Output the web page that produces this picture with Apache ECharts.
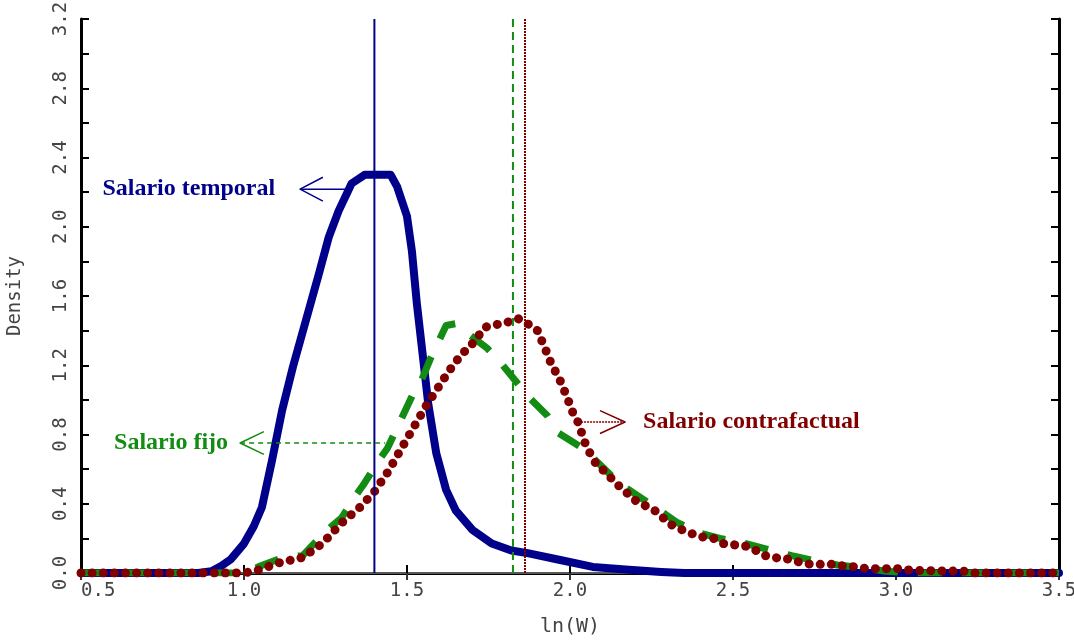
<!DOCTYPE html>
<html><head><meta charset="utf-8">
<script src="https://cdn.jsdelivr.net/npm/echarts@6/dist/echarts.min.js"></script>
<style>html,body{margin:0;padding:0;background:#fff}#c{width:1074px;height:641px}</style>
</head><body><div id="c"></div>
<script>
// ---- data ----
const xTicks = [0.5, 1.0, 1.5, 2.0, 2.5, 3.0, 3.5];
const yTicks = [0.0, 0.4, 0.8, 1.2, 1.6, 2.0, 2.4, 2.8, 3.2];
const temporal = [[0.5,0],[0.7,0],[0.86,0],[0.9,0.01],[0.93,0.04],[0.96,0.08],[1.0,0.17],[1.03,0.27],[1.055,0.38],[1.086,0.65],[1.117,0.94],[1.15,1.19],[1.19,1.46],[1.23,1.73],[1.26,1.94],[1.29,2.09],[1.33,2.25],[1.37,2.30],[1.45,2.30],[1.47,2.23],[1.5,2.06],[1.515,1.86],[1.53,1.56],[1.55,1.23],[1.565,0.98],[1.59,0.69],[1.62,0.48],[1.65,0.36],[1.7,0.25],[1.76,0.17],[1.82,0.13],[1.87,0.115],[1.97,0.075],[2.07,0.035],[2.17,0.02],[2.28,0.006],[2.35,0],[3.5,0]];
const fijo = [[0.5,0],[1.0,0.0],[1.05,0.04],[1.12,0.09],[1.18,0.1],[1.25,0.24],[1.3,0.32],[1.34,0.44],[1.37,0.52],[1.41,0.64],[1.44,0.72],[1.47,0.84],[1.49,0.92],[1.52,1.04],[1.546,1.12],[1.57,1.23],[1.59,1.31],[1.62,1.43],[1.65,1.44],[1.675,1.4],[1.745,1.3],[1.785,1.22],[1.837,1.1],[1.871,1.02],[1.93,0.91],[1.963,0.81],[2.04,0.72],[2.09,0.63],[2.15,0.52],[2.205,0.45],[2.276,0.36],[2.33,0.29],[2.4,0.23],[2.46,0.2],[2.54,0.17],[2.6,0.14],[2.68,0.1],[2.74,0.075],[2.82,0.046],[2.9,0.03],[2.97,0.01],[3.05,0],[3.5,0]];
const contrafactual = [[0.5,0],[1.0,0],[1.04,0.015],[1.11,0.06],[1.18,0.09],[1.24,0.17],[1.3,0.29],[1.356,0.38],[1.4,0.47],[1.44,0.58],[1.48,0.71],[1.52,0.84],[1.56,0.97],[1.595,1.07],[1.63,1.17],[1.67,1.27],[1.69,1.3],[1.74,1.42],[1.81,1.45],[1.84,1.47],[1.87,1.44],[1.9,1.4],[1.923,1.3],[1.94,1.22],[1.97,1.11],[1.99,1.02],[2.01,0.92],[2.025,0.87],[2.05,0.73],[2.08,0.63],[2.11,0.58],[2.14,0.52],[2.17,0.47],[2.2,0.42],[2.24,0.38],[2.27,0.35],[2.3,0.29],[2.33,0.26],[2.37,0.23],[2.4,0.21],[2.44,0.2],[2.47,0.17],[2.54,0.155],[2.57,0.13],[2.6,0.1],[2.64,0.085],[2.67,0.08],[2.71,0.06],[2.74,0.05],[2.81,0.05],[2.84,0.04],[2.88,0.035],[2.91,0.025],[3.01,0.025],[3.05,0.015],[3.21,0.01],[3.24,0],[3.5,0]];
const meanTemporal = 1.40, meanFijo = 1.825, meanContra = 1.862;
const labels = ['Salario temporal', 'Salario fijo', 'Salario contrafactual'];
// arrow anchors in data units: [tipX, tipY, tailX, armX, armDy]
const arrowTemporal = [1.172, 2.217, 1.316, 1.242, 0.069];
const arrowFijo = [0.988, 0.751, 1.433, 1.061, 0.066];
const arrowContra = [2.169, 0.872, 2.025, 2.092, 0.066];

const BLUE = '#00008b', GREEN = '#128c12', RED = '#800000';
const chart = echarts.init(document.getElementById('c'));
function vline(x){ return [[x,0],[x,3.2]]; }
function arrowLine(a){ return [[a[0],a[1]],[a[2],a[1]]]; }
function arrowHead(a){ return [[a[3],a[1]+a[4]],[a[0],a[1]],[a[3],a[1]-a[4]]]; }
const labelFont = {fontFamily:'DejaVu Sans Mono', fontSize:19, color:'#444'};
function lineS(data, color, width, type, cap, z){
  return {type:'line', data, showSymbol:false, symbol:'none', silent:true, z:z||2,
    lineStyle:{color, width, type, cap:cap||'butt', join:'round'}, animation:false};
}
chart.setOption({
  animation:false,
  grid:{left:81, right:15, top:19, bottom:68, containLabel:false, outerBoundsMode:'none'},
  xAxis:[{type:'value', min:xTicks[0], max:xTicks[xTicks.length-1], interval:0.5, position:'bottom',
    axisLine:{lineStyle:{color:'#000', width:3}}, axisTick:{inside:true, length:8, lineStyle:{color:'#000', width:2}},
    splitLine:{show:false},
    axisLabel:Object.assign({margin:9, alignMinLabel:'left', formatter:v=>v.toFixed(1)}, labelFont),
    name:'ln(W)', nameLocation:'middle', nameGap:44, nameTextStyle:{fontFamily:'DejaVu Sans Mono', fontSize:20, color:'#444'}},
   {type:'value', min:xTicks[0], max:xTicks[xTicks.length-1], interval:0.5, position:'top',
    axisLine:{lineStyle:{color:'#777', width:1.5}}, axisTick:{inside:true, length:7, lineStyle:{color:'#333', width:2}},
    splitLine:{show:false}, axisLabel:{show:false}}],
  yAxis:[{type:'value', min:yTicks[0], max:yTicks[yTicks.length-1], interval:0.4, position:'left',
    axisLine:{lineStyle:{color:'#000', width:3}}, axisTick:{inside:true, length:8, lineStyle:{color:'#000', width:2}},
    minorTick:{show:true, splitNumber:2, length:8, lineStyle:{color:'#000', width:2}},
    splitLine:{show:false},
    axisLabel:Object.assign({margin:10, rotate:90, formatter:v=>v.toFixed(1)}, labelFont),
    name:'Density', nameLocation:'middle', nameGap:56, nameRotate:90, nameTextStyle:{fontFamily:'DejaVu Sans Mono', fontSize:19, color:'#444'}},
   {type:'value', min:yTicks[0], max:yTicks[yTicks.length-1], interval:0.4, position:'right',
    axisLine:{lineStyle:{color:'#000', width:3}}, axisTick:{inside:true, length:8, lineStyle:{color:'#000', width:2}},
    minorTick:{show:true, splitNumber:2, length:8, lineStyle:{color:'#000', width:2}},
    splitLine:{show:false}, axisLabel:{show:false}}],
  series:[
    lineS(temporal, BLUE, 8, 'solid', 'round', 2),
    lineS(fijo, GREEN, 7, [24,20], 'butt', 3),
    lineS(contrafactual, RED, 9, [0.1,11], 'round', 4),
    lineS(vline(meanTemporal), BLUE, 2, 'solid', 'butt', 5),
    lineS(vline(meanFijo), GREEN, 2, [8,5], 'butt', 5),
    lineS(vline(meanContra), RED, 2, [2,1], 'butt', 5),
    lineS(arrowLine(arrowTemporal), BLUE, 1.5, 'solid', 'butt', 6),
    lineS(arrowHead(arrowTemporal), BLUE, 1.5, 'solid', 'butt', 6),
    lineS(arrowLine(arrowFijo), GREEN, 1.5, [5,4], 'butt', 6),
    lineS(arrowHead(arrowFijo), GREEN, 1.5, 'solid', 'butt', 6),
    lineS(arrowLine(arrowContra), RED, 1.5, [2,1], 'butt', 6),
    lineS(arrowHead(arrowContra), RED, 1.5, 'solid', 'butt', 6)
  ]
});
function px(p){ return chart.convertToPixel({xAxisIndex:0, yAxisIndex:0}, p); }
const tFont = 'bold 24px "Liberation Serif", "Times New Roman", serif';
const pT = px([arrowTemporal[0], arrowTemporal[1]]);
const pF = px([arrowFijo[0], arrowFijo[1]]);
const pC = px([arrowContra[0], arrowContra[1]]);
chart.setOption({graphic:[
  {type:'text', x:pT[0]-25, y:pT[1], style:{text:labels[0], font:tFont, fill:BLUE, align:'right', verticalAlign:'middle'}},
  {type:'text', x:pF[0]-12, y:pF[1], style:{text:labels[1], font:tFont, fill:GREEN, align:'right', verticalAlign:'middle'}},
  {type:'text', x:pC[0]+18, y:pC[1], style:{text:labels[2], font:tFont, fill:RED, align:'left', verticalAlign:'middle'}}
]});
</script></body></html>
